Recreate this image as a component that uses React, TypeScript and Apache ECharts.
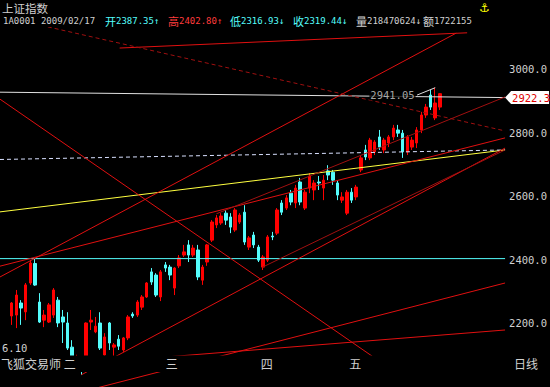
import React, { useEffect, useRef } from "react";
import * as echarts from "echarts";

// ---- candle data (index 0 = 2009/02/10) ----
const opens = [2222, 2225, 2263, 2235, 2326, 2387.35, 2266, 2209, 2203, 2225, 2272, 2219, 2200, 2124, 2080, 2083, 2093, 2203, 2172, 2200, 2099, 2200, 2124, 2149, 2115, 2153, 2228, 2225, 2250, 2282, 2361, 2351, 2282, 2383, 2376, 2310, 2380, 2414, 2446, 2414, 2430, 2335, 2392, 2461, 2509, 2515, 2546, 2534, 2493, 2518, 2549, 2439, 2477, 2439, 2376, 2398, 2474, 2483, 2578, 2562, 2609, 2578, 2644, 2562, 2625, 2619, 2644, 2625, 2679, 2675, 2641, 2587, 2546, 2612, 2597, 2682, 2745, 2720, 2739, 2786, 2745, 2767, 2786, 2808, 2798, 2739, 2754, 2767, 2808, 2855, 2918, 2846, 2880];
const closes = [2263, 2288, 2247, 2320, 2389, 2319.44, 2203, 2225, 2257, 2304, 2200, 2203, 2121, 2090, 2093, 2071, 2200, 2209, 2190, 2121, 2156, 2137, 2131, 2127, 2153, 2219, 2222, 2266, 2282, 2326, 2329, 2288, 2361, 2373, 2351, 2373, 2405, 2424, 2414, 2436, 2345, 2376, 2446, 2518, 2531, 2537, 2524, 2502, 2556, 2540, 2455, 2468, 2446, 2398, 2408, 2471, 2471, 2556, 2549, 2594, 2581, 2625, 2581, 2612, 2663, 2641, 2641, 2650, 2666, 2650, 2603, 2597, 2612, 2587, 2628, 2720, 2723, 2776, 2770, 2754, 2776, 2786, 2814, 2798, 2739, 2786, 2776, 2808, 2855, 2880, 2880, 2893, 2922.3];
const lows = [2194, 2184, 2194, 2209, 2320, 2316.93, 2200, 2187, 2200, 2216, 2187, 2137, 2115, 2083, 2050, 2037, 2090, 2178, 2168, 2115, 2093, 2115, 2093, 2115, 2109, 2146, 2216, 2219, 2241, 2279, 2320, 2282, 2269, 2361, 2335, 2288, 2373, 2408, 2392, 2408, 2335, 2320, 2380, 2455, 2499, 2509, 2509, 2483, 2487, 2512, 2446, 2430, 2436, 2392, 2367, 2392, 2461, 2477, 2540, 2556, 2571, 2562, 2571, 2556, 2609, 2587, 2619, 2587, 2650, 2635, 2587, 2578, 2540, 2578, 2587, 2675, 2713, 2713, 2729, 2745, 2735, 2754, 2776, 2786, 2720, 2729, 2745, 2751, 2798, 2846, 2871, 2839, 2871];
const highs = [2266, 2304, 2272, 2326, 2398, 2402.8, 2294, 2241, 2263, 2310, 2282, 2241, 2234, 2146, 2100, 2095, 2202, 2241, 2219, 2234, 2168, 2203, 2137, 2162, 2156, 2225, 2234, 2272, 2288, 2329, 2373, 2357, 2367, 2392, 2383, 2376, 2414, 2446, 2461, 2446, 2446, 2383, 2449, 2524, 2540, 2546, 2556, 2546, 2562, 2546, 2571, 2474, 2487, 2446, 2414, 2477, 2487, 2562, 2587, 2603, 2619, 2635, 2657, 2619, 2672, 2650, 2663, 2666, 2697, 2682, 2650, 2612, 2619, 2625, 2635, 2726, 2761, 2783, 2776, 2808, 2783, 2792, 2824, 2824, 2808, 2792, 2786, 2817, 2865, 2890, 2934, 2941.05, 2924];

// cursor (header) info
const stockName = "上证指数";
const stockCode = "1A0001";
const cursorDate = "2009/02/17";
const cursorIdx = 5;
const cursorVolume = "218470624";
const cursorAmount = "1722155";
const bottomLeftValue = "6.10";
const softwareName = "飞狐交易师";
const periodName = "日线";

// month labels on the x axis (candle index positions)
const monthLabels = ["二", "三", "四", "五"];
const monthTickIdx = [12.5, 34.4, 54.8, 73.8];

// y axis
const yMin = 2000;
const yMax = 3200;
const yStep = 200;
const xMin = -2.5;
const xMax = 106;

// ---- user drawn lines: [candle index, price] ----
const lineA = [[-2.5, 2345], [95.5, 3113]];
const lineT = [[23.2, 3066], [97.85, 3114]];
const lineDash = [[-2.5, 3167], [106, 2805]];
const lineW = [[-2.5, 2927], [106, 2910]];
const lineDashW = [[-2.5, 2715], [106, 2745]];
const lineYellow = [[-2.5, 2550], [106, 2745]];
const lineCyan = [[-2.5, 2402.8], [106, 2402.8]];
const lineB = [[-2.5, 2379], [106, 2783]];
const lineG = [[-2.5, 2905], [77.7, 2093]];
const lineI = [[15, 2037], [106, 2751]];
const lineJ = [[17.9, 1994], [106, 2326]];
const lineK = [[29.7, 2089], [106, 2178]];
const lineP = [[53.9, 2376], [106, 2745]];
const lineC = [[44, 2544], [106, 2912]];
const highNoteAnchor = [87.1, 2918];

const MONO = "'DejaVu Sans Mono', 'Liberation Mono', monospace";
const CJK = "'Noto Sans CJK SC', sans-serif";
const GRAY = "#d0d0d0";
const RED = "#ff0000";
const CYAN = "#54fcfc";
const LRED = "#e01010";
const DRED = "#a01010";

const mkLine = (data: number[][], color: string, type: any = "solid", z = 4) => ({
  type: "line",
  data,
  symbol: "none",
  silent: true,
  clip: true,
  z,
  lineStyle: { color, width: 1, type },
  emphasis: { disabled: true },
});

export default function App() {
  const ref = useRef<HTMLDivElement>(null);
  useEffect(() => {
    document.body.style.margin = "0";
    document.body.style.background = "#000";
    const chart = echarts.init(ref.current!, null, { renderer: "svg" });
    const hi = highs[91];
    const option: any = {
      animation: false,
      backgroundColor: "#000",
      grid: { left: 0, right: 44, top: 5.5, bottom: 0.5 },
      xAxis: {
        type: "value",
        min: xMin,
        max: xMax,
        z: 10,
        axisLine: { show: false },
        axisTick: { show: false },
        splitLine: { show: false },
        axisLabel: {
          inside: true,
          customValues: monthTickIdx,
          formatter: (v: number) => {
            const k = monthTickIdx.indexOf(v);
            return k >= 0 ? monthLabels[k] : "";
          },
          color: GRAY,
          fontFamily: CJK,
          fontSize: 12,
          margin: 23,
          verticalAlign: "middle",
        },
      },
      yAxis: {
        type: "value",
        position: "right",
        min: yMin,
        max: yMax,
        interval: yStep,
        axisLine: { show: false },
        axisTick: { show: false },
        splitLine: { show: false },
        axisLabel: {
          formatter: (v: number) => v.toFixed(1),
          color: GRAY,
          fontFamily: MONO,
          fontSize: 10.5,
          margin: 4,
          showMinLabel: false,
          showMaxLabel: false,
        },
      },
      series: [
        {
          type: "candlestick",
          data: opens.map((o, i) => [i, o, closes[i], lows[i], highs[i]]),
          encode: { x: 0, y: [1, 2, 3, 4] },
          barWidth: 3,
          z: 2,
          silent: true,
          itemStyle: { color: RED, color0: CYAN, borderColor: RED, borderColor0: CYAN, borderWidth: 1 },
        },
        mkLine(lineCyan, CYAN),
        mkLine(lineYellow, "#ffff40"),
        mkLine(lineDashW, "#d8e0ff", [4, 3]),
        mkLine(lineW, "#e0e0e0"),
        mkLine(lineA, LRED),
        mkLine(lineT, LRED),
        mkLine(lineDash, DRED, [4, 3]),
        mkLine(lineB, LRED),
        mkLine(lineG, LRED),
        mkLine(lineI, LRED),
        mkLine(lineJ, LRED),
        mkLine(lineK, LRED),
        mkLine(lineP, DRED),
        mkLine(lineC, DRED),
        mkLine([highNoteAnchor, [91, hi]], "#e0e0e0", "solid", 6),
        {
          type: "scatter",
          data: [highNoteAnchor],
          symbolSize: 1,
          silent: true,
          z: 7,
          itemStyle: { color: "rgba(0,0,0,0)" },
          label: {
            show: true,
            position: "left",
            distance: 1,
            formatter: hi.toFixed(2),
            color: GRAY,
            fontFamily: MONO,
            fontSize: 10.5,
            backgroundColor: "#000",
            padding: [0, 1],
          },
        },
      ],
    };
    chart.setOption(option);

    const [px, py] = chart.convertToPixel({ gridIndex: 0 }, [xMax, lineW[1][1]]) as number[];
    const seg = (x: number, color: string, cjk: string, num: string) => ({
      type: "text",
      x,
      y: 21,
      z: 10,
      silent: true,
      style: {
        text: (cjk ? `{c|${cjk}}` : "") + `{n|${num}}`,
        fill: color,
        verticalAlign: "middle",
        rich: {
          c: { fill: color, fontSize: 11, fontFamily: CJK },
          n: { fill: color, fontSize: 9, fontFamily: MONO },
        },
      },
    });
    const txt = (x: number, y: number, text: string, font: string, fill = GRAY) => ({
      type: "text",
      x,
      y,
      z: 10,
      silent: true,
      style: { text, font, fill, verticalAlign: "middle" },
    });
    chart.setOption({
      graphic: [
        { type: "rect", z: 5, silent: true, shape: { x: 0, y: 0, width: 550, height: 27 }, style: { fill: "#000" } },
        { type: "rect", z: 5, silent: true, shape: { x: 0, y: 355.5, width: 550, height: 16.5 }, style: { fill: "#000" } },
        txt(2, 7.5, stockName, `11.5px ${CJK}`),
        txt(479, 7.5, "⚓", "12px 'DejaVu Sans'", "#ffff00"),
        seg(3, GRAY, "", `${stockCode} ${cursorDate}`),
        seg(105, CYAN, "开", `${opens[cursorIdx].toFixed(2)}↑`),
        seg(168, "#ff3c3c", "高", `${highs[cursorIdx].toFixed(2)}↑`),
        seg(230, CYAN, "低", `${lows[cursorIdx].toFixed(2)}↓`),
        seg(293, CYAN, "收", `${closes[cursorIdx].toFixed(2)}↓`),
        seg(356, GRAY, "量", `${cursorVolume}↓`),
        seg(423, GRAY, "额", cursorAmount),
        txt(2, 347.5, bottomLeftValue, `10.5px ${MONO}`),
        txt(1, 363.5, softwareName, `12px ${CJK}`),
        txt(514, 363.5, periodName, `12px ${CJK}`),
        {
          type: "polygon",
          z: 10,
          silent: true,
          shape: {
            points: [
              [px, py],
              [px + 6, py - 6.5],
              [px + 44, py - 6.5],
              [px + 44, py + 6.5],
              [px + 6, py + 6.5],
            ],
          },
          style: { fill: "#ffffff" },
        },
        txt(px + 7, py + 0.5, closes[closes.length - 1].toFixed(1), `10.5px ${MONO}`, "#e00000"),
      ],
    });
    return () => chart.dispose();
  }, []);
  return (
    <div
      ref={ref}
      style={{ position: "fixed", left: 0, top: 0, width: 550, height: 387, background: "#000" }}
    />
  );
}
